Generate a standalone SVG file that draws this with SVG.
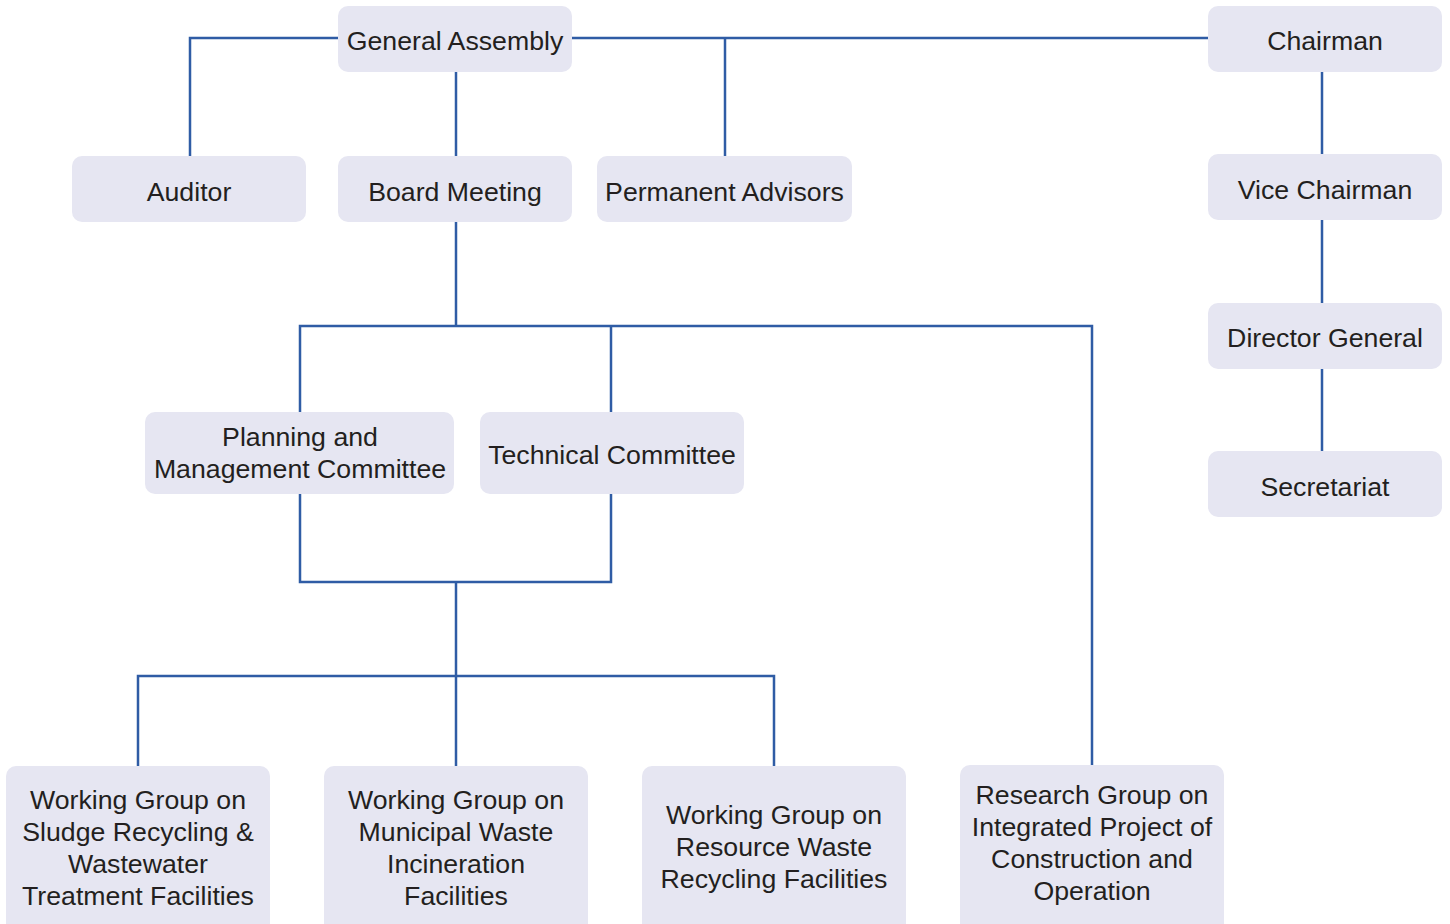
<svg xmlns="http://www.w3.org/2000/svg" width="1450" height="924" viewBox="0 0 1450 924">
<style>
.box{fill:#e6e6f2;}
.t{font-family:"Liberation Sans",Arial,sans-serif;font-size:26.7px;fill:#231f20;text-anchor:middle;}
.c{fill:none;stroke:#2f5ca5;stroke-width:2.5;}
</style>
<rect width="1450" height="924" fill="#ffffff"/>
<g id="connectors" class="c">
<path d="M338,38 H190 V156"/>
<path d="M572,38 H1208"/>
<path d="M725,38 V156"/>
<path d="M456,72 V156"/>
<path d="M1322,72 V154 M1322,220 V303 M1322,369 V451"/>
<path d="M456,222 V326"/>
<path d="M300,412 V326 H1092 V766"/>
<path d="M611,326 V412"/>
<path d="M300,494 V582 H611 V494"/>
<path d="M456,582 V766"/>
<path d="M138,766 V676 H774 V766"/>
</g>
<g id="general-assembly"><rect class="box" x="338" y="6" width="234" height="66" rx="10"/><text class="t" x="455" y="50">General Assembly</text></g>
<g id="auditor"><rect class="box" x="72" y="156" width="234" height="66" rx="10"/><text class="t" x="189" y="201">Auditor</text></g>
<g id="board-meeting"><rect class="box" x="338" y="156" width="234" height="66" rx="10"/><text class="t" x="455" y="201">Board Meeting</text></g>
<g id="permanent-advisors"><rect class="box" x="597" y="156" width="255" height="66" rx="10"/><text class="t" x="724.5" y="201">Permanent Advisors</text></g>
<g id="chairman"><rect class="box" x="1208" y="6" width="234" height="66" rx="10"/><text class="t" x="1325" y="50">Chairman</text></g>
<g id="vice-chairman"><rect class="box" x="1208" y="154" width="234" height="66" rx="10"/><text class="t" x="1325" y="199">Vice Chairman</text></g>
<g id="director-general"><rect class="box" x="1208" y="303" width="234" height="66" rx="10"/><text class="t" x="1325" y="347">Director General</text></g>
<g id="secretariat"><rect class="box" x="1208" y="451" width="234" height="66" rx="10"/><text class="t" x="1325" y="496">Secretariat</text></g>
<g id="planning-management"><rect class="box" x="145" y="412" width="309" height="82" rx="10"/><text class="t" x="300" y="446">Planning and</text><text class="t" x="300" y="478">Management Committee</text></g>
<g id="technical-committee"><rect class="box" x="480" y="412" width="264" height="82" rx="10"/><text class="t" x="612" y="464">Technical Committee</text></g>
<g id="wg-sludge"><rect class="box" x="6" y="766" width="264" height="170" rx="10"/><text class="t" x="138" y="809">Working Group on</text><text class="t" x="138" y="841">Sludge Recycling &amp;</text><text class="t" x="138" y="873">Wastewater</text><text class="t" x="138" y="905">Treatment Facilities</text></g>
<g id="wg-municipal"><rect class="box" x="324" y="766" width="264" height="170" rx="10"/><text class="t" x="456" y="809">Working Group on</text><text class="t" x="456" y="841">Municipal Waste</text><text class="t" x="456" y="873">Incineration</text><text class="t" x="456" y="905">Facilities</text></g>
<g id="wg-resource"><rect class="box" x="642" y="766" width="264" height="170" rx="10"/><text class="t" x="774" y="824">Working Group on</text><text class="t" x="774" y="856">Resource Waste</text><text class="t" x="774" y="888">Recycling Facilities</text></g>
<g id="rg-integrated"><rect class="box" x="960" y="765" width="264" height="170" rx="10"/><text class="t" x="1092" y="804">Research Group on</text><text class="t" x="1092" y="836">Integrated Project of</text><text class="t" x="1092" y="868">Construction and</text><text class="t" x="1092" y="900">Operation</text></g>
</svg>
